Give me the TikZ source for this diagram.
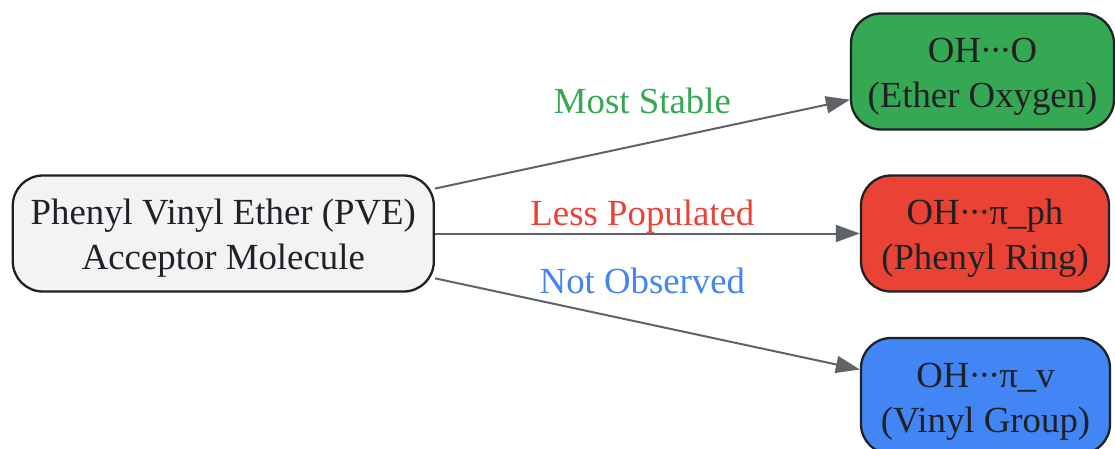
\documentclass[tikz,border=0pt]{standalone}
\usepackage{xcolor}
\usepackage{fontspec}
\setmainfont{Liberation Serif}
\usepackage{tikz}
\usetikzlibrary{arrows.meta}
\usetikzlibrary{positioning}

\definecolor{inkgrey}{HTML}{202124}
\definecolor{edgegrey}{HTML}{5F6368}
\definecolor{srcgrey}{HTML}{F1F3F4}
\definecolor{stablegreen}{HTML}{34A853}
\definecolor{lessred}{HTML}{EA4335}
\definecolor{notblue}{HTML}{4285F4}
\newcommand{\topgap}{\rule{0pt}{35.5pt}}
\newcommand{\hdots}{\kern-1pt·\kern-2.5pt·\kern-2.5pt·\kern-1pt}

\begin{document}
\begin{tikzpicture}[x=1pt, y=-1pt, font=\fontsize{36.8}{45}\selectfont, box style/.style={draw=inkgrey, line width=2.3pt, rounded corners=30pt, align=center, text=inkgrey, inner sep=0pt, minimum height=116pt}, link style/.style={draw=edgegrey, line width=2pt, -{Triangle[length=24pt, width=17pt]}}]
	\useasboundingbox (0,0) rectangle (1115,448);
	\node[box style, fill=srcgrey, minimum width=421pt] (pve) at (223.3, 233.5) {\topgap Phenyl Vinyl Ether (PVE)\\Acceptor Molecule};
	\node[box style, fill=stablegreen, minimum width=263pt] (ether) at (982.5, 71.5) {\topgap OH\hdots O\\(Ether Oxygen)};
	\node[box style, fill=lessred, minimum width=248pt] (phenyl) at (985, 233.5) {\topgap OH\hdots π\_ph\\(Phenyl Ring)};
	\node[box style, fill=notblue, minimum width=249pt] (vinyl) at (985.5, 396) {\topgap OH\hdots π\_v\\(Vinyl Group)};
	\draw[link style] (pve) -- node[midway, yshift=43pt, text=stablegreen] (stable) {Most Stable} (ether);
	\draw[link style] (pve) -- node[midway, xshift=-5pt, yshift=17pt, text=lessred] (populated) {Less Populated} (phenyl);
	\draw[link style] (pve) -- node[midway, xshift=-5pt, yshift=43pt, text=notblue] (observed) {Not Observed} (vinyl);
\end{tikzpicture}
\end{document}
